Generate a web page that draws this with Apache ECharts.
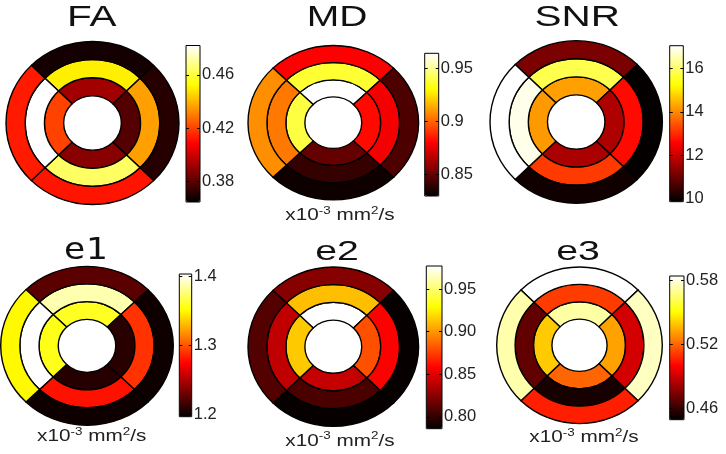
<!DOCTYPE html>
<html><head><meta charset="utf-8">
<script src="https://cdn.jsdelivr.net/npm/echarts@6/dist/echarts.min.js"></script>
<style>html,body{margin:0;padding:0;background:#fff}#c{width:726px;height:454px}</style>
</head><body><div id="c"></div>
<script>
// ---- data ----
const rings = ['inner', 'middle', 'outer'];
const segments = ['top', 'right', 'bottom', 'left'];

const faInner  = [0.3925, 0.379, 0.388, 0.420];
const faMiddle = [0.450, 0.436, 0.464, 0.482];
const faOuter  = [0.368, 0.371, 0.412, 0.413];
const faRange = [0.3645, 0.482];
const faTicks = [0.38, 0.42, 0.46];
const faTickLabels = ['0.38', '0.42', '0.46'];

const mdInner  = [0.964, 0.882, 0.850, 0.939];
const mdMiddle = [0.937, 0.878, 0.8405, 0.904];
const mdOuter  = [0.880, 0.845, 0.833, 0.9085];
const mdRange = [0.830, 0.964];
const mdTicks = [0.85, 0.9, 0.95];
const mdTickLabels = ['0.85', '0.9', '0.95'];

const snrInner  = [14.24, 11.7, 11.65, 14.17];
const snrMiddle = [15.8, 12.66, 13.16, 16.9];
const snrOuter  = [11.15, 9.9, 10.03, 17.05];
const snrRange = [9.85, 17.05];
const snrTicks = [10, 12, 14, 16];
const snrTickLabels = ['10', '12', '14', '16'];

const e1Inner  = [1.358, 1.209, 1.208, 1.356];
const e1Middle = [1.387, 1.289, 1.279, 1.403];
const e1Outer  = [1.224, 1.201, 1.201, 1.350];
const e1Range = [1.1965, 1.403];
const e1Ticks = [1.2, 1.3, 1.4];
const e1TickLabels = ['1.2', '1.3', '1.4'];

const e2Inner  = [0.977, 0.880, 0.841, 0.914];
const e2Middle = [0.911, 0.857, 0.807, 0.840];
const e2Outer  = [0.824, 0.788, 0.788, 0.809];
const e2Range = [0.786, 0.977];
const e2Ticks = [0.80, 0.85, 0.90, 0.95];
const e2TickLabels = ['0.80', '0.85', '0.90', '0.95'];

const e3Inner  = [0.572, 0.532, 0.520, 0.540];
const e3Middle = [0.512, 0.4915, 0.454, 0.469];
const e3Outer  = [0.584, 0.576, 0.506, 0.573];
const e3Range = [0.4497, 0.584];
const e3Ticks = [0.46, 0.52, 0.58];
const e3TickLabels = ['0.46', '0.52', '0.58'];

const titles = ['FA', 'MD', 'SNR', 'e1', 'e2', 'e3'];
const unitLabel = '{n|x10}{s|-3}{n| mm}{s|2}{n|/s}';

// MATLAB "hot" colormap stops
const HOT = ['#000000', '#550000', '#aa0000', '#ff0000', '#ff5500', '#ffaa00', '#ffff00', '#ffff80', '#ffffff'];

const panels = [
  { inner: faInner, middle: faMiddle, outer: faOuter, range: faRange, ticks: faTicks, labels: faTickLabels },
  { inner: mdInner, middle: mdMiddle, outer: mdOuter, range: mdRange, ticks: mdTicks, labels: mdTickLabels },
  { inner: snrInner, middle: snrMiddle, outer: snrOuter, range: snrRange, ticks: snrTicks, labels: snrTickLabels },
  { inner: e1Inner, middle: e1Middle, outer: e1Outer, range: e1Range, ticks: e1Ticks, labels: e1TickLabels },
  { inner: e2Inner, middle: e2Middle, outer: e2Outer, range: e2Range, ticks: e2Ticks, labels: e2TickLabels },
  { inner: e3Inner, middle: e3Middle, outer: e3Outer, range: e3Range, ticks: e3Ticks, labels: e3TickLabels }
];

// ---- layout (pixels) ----
const layout = [
  { cx: 92.5, cy: 123, rx: 86.5, ry: 81.5, bar: [186, 45.5, 14, 156.5], tx: 91.7, ty: 17.5, tf: 'Liberation Sans', ts: 30, tsx: 1.35, unit: null },
  { cx: 333.3, cy: 122.7, rx: 85.3, ry: 77.2, bar: [424.7, 53.3, 14, 142.7], tx: 337, ty: 17.5, tf: 'Liberation Sans', ts: 30, tsx: 1.3, unit: [340, 215.5] },
  { cx: 576.2, cy: 122, rx: 86.2, ry: 81.3, bar: [669.7, 45.7, 13.6, 156], tx: 577.3, ty: 17.5, tf: 'Liberation Sans', ts: 30, tsx: 1.35, unit: null },
  { cx: 87, cy: 345.8, rx: 86.3, ry: 79.5, bar: [179.3, 274, 12.4, 142.7], tx: 85.5, ty: 251, tf: 'DejaVu Sans Mono', ts: 30, tsx: 1.2, unit: [91.7, 436.5] },
  { cx: 333.3, cy: 346.7, rx: 85.3, ry: 79.7, bar: [426.3, 266, 15.7, 162.7], tx: 337, ty: 252, tf: 'Liberation Sans', ts: 28, tsx: 1.4, unit: [340, 441] },
  { cx: 579.5, cy: 345.3, rx: 82.8, ry: 78.3, bar: [669.7, 276, 14.3, 143.7], tx: 578, ty: 252, tf: 'Liberation Sans', ts: 28, tsx: 1.4, unit: [584, 437.5] }
];

const option = {
  animation: false,
  backgroundColor: '#fff',
  polar: [], angleAxis: [], radiusAxis: [], series: [], visualMap: [],
  grid: [], xAxis: [], yAxis: [], graphic: []
};

panels.forEach((p, i) => {
  const L = layout[i];
  option.polar.push({ center: [L.cx, L.cy], radius: [L.rx / 3, L.rx] });
  option.angleAxis.push({ polarIndex: i, type: 'category', data: segments, startAngle: 135, clockwise: true, show: false });
  option.radiusAxis.push({ polarIndex: i, type: 'category', data: rings, show: false });
  const data = [];
  [p.inner, p.middle, p.outer].forEach((arr, r) => {
    arr.forEach((v, s) => data.push([rings[r], segments[s], v]));
  });
  const sy = L.ry / L.rx;
  option.series.push({
    type: 'custom', coordinateSystem: 'polar', polarIndex: i, silent: true,
    dimensions: ['ring', 'segment', 'value'],
    encode: { radius: 0, angle: 1 },
    data: data,
    renderItem: function (params, api) {
      const pt = api.coord([api.value(0), api.value(1)]);
      const sz = api.size([1, 1], [api.value(0), api.value(1)]);
      const cs = params.coordSys;
      const r = pt[2], a = pt[3];
      return {
        type: 'sector',
        originX: cs.cx, originY: cs.cy, scaleY: sy,
        shape: { cx: cs.cx, cy: cs.cy, r0: r - sz[0] / 2, r: r + sz[0] / 2,
                 startAngle: -a - sz[1] / 2, endAngle: -a + sz[1] / 2, clockwise: true },
        style: { fill: api.visual('color'), stroke: '#000', lineWidth: 1.4 }
      };
    }
  });
  option.visualMap.push({
    type: 'continuous', seriesIndex: i, dimension: 2,
    min: p.range[0], max: p.range[1], inRange: { color: HOT },
    orient: 'vertical', left: L.bar[0], top: L.bar[1],
    itemWidth: L.bar[2], itemHeight: L.bar[3], padding: 0,
    calculable: false, hoverLink: false, realtime: false
  });
  option.grid.push({ left: L.bar[0], top: L.bar[1], width: L.bar[2], height: L.bar[3],
    show: true, borderColor: '#000', borderWidth: 1, backgroundColor: 'transparent', z: 10 });
  option.xAxis.push({ gridIndex: i, type: 'value', show: false, min: 0, max: 1 });
  const fmt = v => { const k = p.ticks.findIndex(t => Math.abs(t - v) < 1e-9); return k >= 0 ? p.labels[k] : ''; };
  option.yAxis.push({ gridIndex: i, type: 'value', min: p.range[0], max: p.range[1], position: 'left', z: 11,
    axisLine: { show: false }, splitLine: { show: false },
    axisTick: { show: true, inside: true, length: 3, customValues: p.ticks, lineStyle: { color: '#000' } },
    axisLabel: { show: false } });
  option.yAxis.push({ gridIndex: i, type: 'value', min: p.range[0], max: p.range[1], position: 'right', z: 11,
    axisLine: { show: false }, splitLine: { show: false },
    axisTick: { show: true, inside: true, length: 3, customValues: p.ticks, lineStyle: { color: '#000' } },
    axisLabel: { show: true, customValues: p.ticks, formatter: fmt, margin: 2, fontSize: 16.5,
      fontFamily: 'Liberation Sans', color: '#222' } });
  option.graphic.push({ type: 'text', x: L.tx, y: L.ty, scaleX: L.tsx, z: 20,
    style: { text: titles[i], fontSize: L.ts, fontFamily: L.tf, fill: '#111', align: 'center', verticalAlign: 'middle' } });
  if (L.unit) {
    option.graphic.push({ type: 'text', x: L.unit[0], y: L.unit[1], scaleX: 1.22, z: 20,
      style: { text: unitLabel, fill: '#222', align: 'center', verticalAlign: 'middle',
        rich: { n: { fontSize: 17, fontFamily: 'Liberation Sans', lineHeight: 21, verticalAlign: 'middle', fill: '#222' },
                s: { fontSize: 11, fontFamily: 'Liberation Sans', lineHeight: 11, verticalAlign: 'top', fill: '#222' } } } });
  }
});

const chart = echarts.init(document.getElementById('c'), null, { renderer: 'canvas' });
chart.setOption(option);
</script></body></html>
